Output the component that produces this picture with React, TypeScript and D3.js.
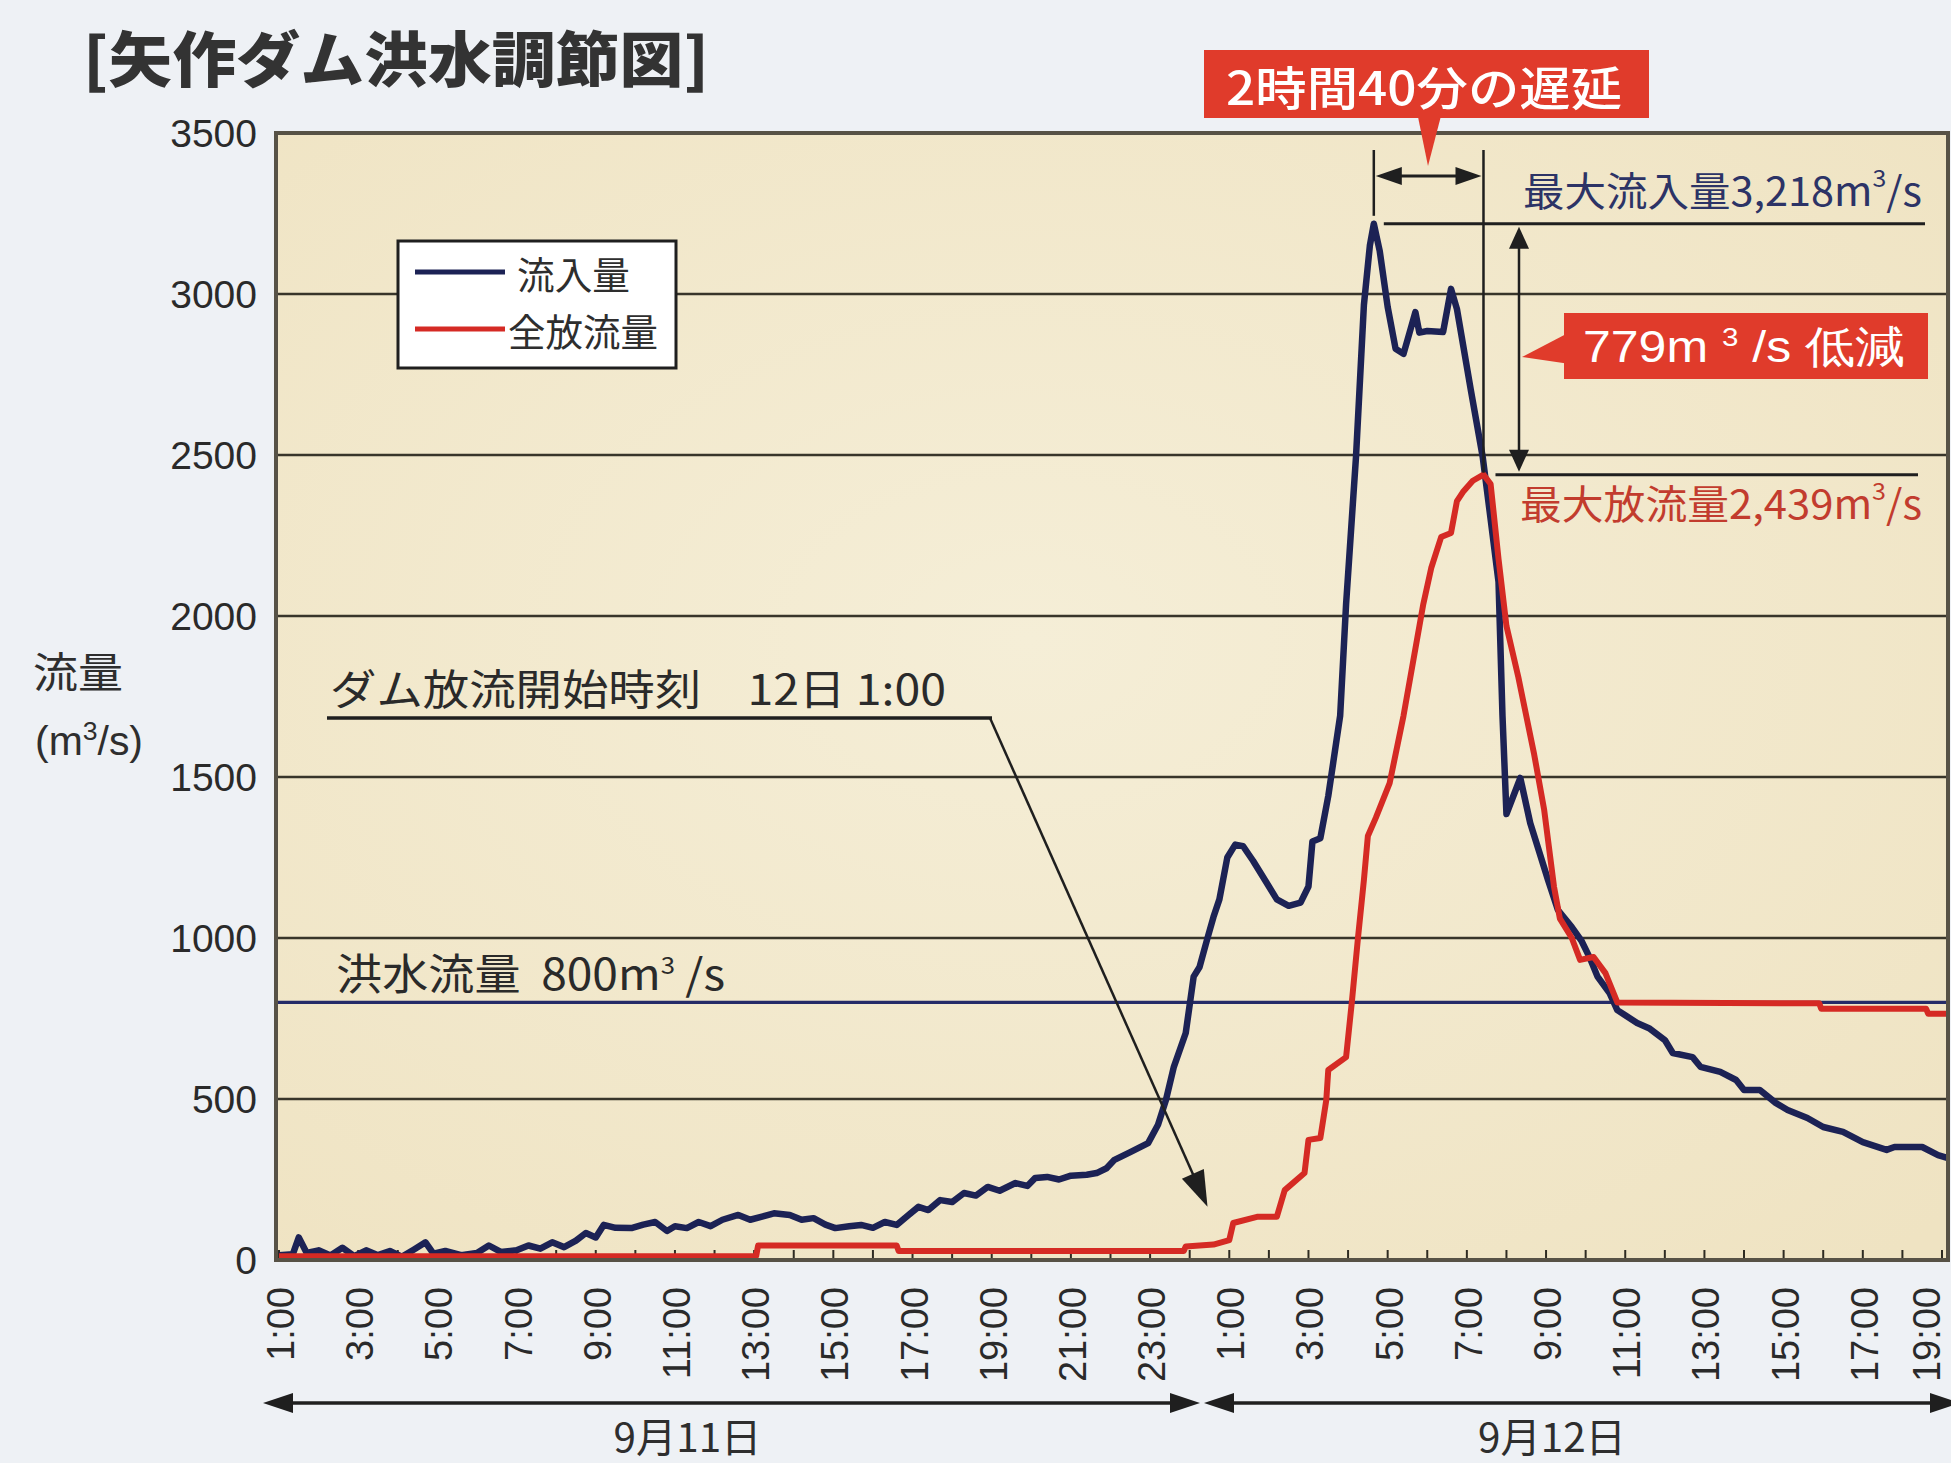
import { useEffect, useRef } from "react";
import * as d3 from "d3";

const WIDTH = 1951;
const HEIGHT = 1463;

// hours counted from 9/11 1:00
const inflowHours = [
  0, 0.35, 0.5, 0.7, 1.0, 1.3, 1.6, 1.9, 2.2, 2.5, 2.8, 3.1, 3.4, 3.7, 3.9, 4.2, 4.6, 5.0, 5.3, 5.6,
  6.0, 6.3, 6.6, 6.9, 7.2, 7.5, 7.75, 8.0, 8.2, 8.5, 8.9, 9.2, 9.5, 9.8, 10.0, 10.3, 10.6, 10.9, 11.2,
  11.6, 11.9, 12.2, 12.5, 12.9, 13.2, 13.5, 13.8, 14.05, 14.4, 14.7, 15.0, 15.3, 15.6, 15.9, 16.15,
  16.4, 16.7, 17.0, 17.3, 17.6, 17.9, 18.2, 18.6, 18.9, 19.1, 19.4, 19.7, 20.0, 20.4, 20.65, 20.9,
  21.1, 21.5, 21.95, 22.2, 22.4, 22.6, 22.9, 23.1, 23.25, 23.45, 23.6, 23.75, 23.95, 24.15, 24.35,
  24.6, 24.9, 25.2, 25.5, 25.8, 26.0, 26.1, 26.3, 26.5, 26.8, 26.95, 27.2, 27.4, 27.55, 27.65, 27.8,
  28.0, 28.2, 28.4, 28.6, 28.7, 28.8, 29.0, 29.4, 29.6, 29.75, 30.1, 30.4, 30.6, 30.8, 30.9, 31.0,
  31.35, 31.6, 32.05, 32.3, 32.65, 32.9, 33.1, 33.3, 33.6, 33.8, 34.0, 34.3, 34.6, 35.0, 35.2, 35.7,
  35.9, 36.4, 36.8, 37.0, 37.4, 37.8, 38.1, 38.6, 39.0, 39.5, 40.0, 40.6, 40.8, 41.5, 41.9, 42.3,
];
const inflowValues = [
  15, 18, 70, 22, 30, 14, 38, 12, 30, 15, 28, 10, 32, 55, 20, 28, 15, 22, 45, 25,
  30, 45, 35, 55, 40, 60, 84, 70, 109, 100, 99, 110, 118, 90, 105, 99, 118, 105, 125,
  140, 125, 135, 145, 140, 125, 130, 110, 99, 105, 109, 100, 118, 109, 140, 165,
  155, 186, 180, 208, 200, 227, 215, 239, 230, 255, 258, 250, 262, 265, 270, 285,
  311, 335, 363, 420, 497, 600, 705, 880, 910, 1000, 1065, 1120, 1250, 1290, 1285,
  1240, 1180, 1120, 1100, 1110, 1160, 1300, 1310, 1441, 1690, 2037, 2494, 2966, 3150, 3218, 3133,
  2960, 2830, 2814, 2900, 2944, 2880, 2885, 2882, 3016, 2953, 2702, 2494, 2301, 2106, 1690, 1385,
  1497, 1357, 1180, 1087, 1034, 990, 940, 880, 830, 776, 760, 736, 720, 683, 643, 630,
  600, 584, 559, 528, 528, 488, 466, 441, 413, 398, 366, 342, 351, 351, 326, 311,
];

const outflowHours = [
  0, 12.05, 12.1, 15.6, 15.65, 22.85, 22.9, 23.6, 24.0, 24.1, 24.7, 25.2, 25.4, 25.9, 26.0, 26.3,
  26.45, 26.5, 26.95, 27.1, 27.25, 27.4, 27.5, 27.7, 28.05, 28.4, 28.7, 28.9, 29.1, 29.35, 29.6,
  29.75, 29.9, 30.15, 30.42, 30.6, 30.8, 31.0, 31.3, 31.7, 31.95, 32.2, 32.35, 32.65, 32.86, 33.2,
  33.5, 33.8, 38.9, 38.95, 41.6, 41.65, 42.3,
];
const outflowValues = [
  12, 12, 45, 45, 28, 28, 42, 48, 62, 115, 134, 134, 217, 270, 373, 379,
  497, 590, 630, 807, 1000, 1180, 1317, 1373, 1481, 1690, 1898, 2037, 2149, 2245, 2258,
  2357, 2385, 2420, 2439, 2410, 2177, 1969, 1810, 1570, 1400, 1160, 1060, 1000, 932, 941,
  891, 800, 797, 780, 780, 765, 765,
];

const yTickValues = [0, 500, 1000, 1500, 2000, 2500, 3000, 3500];
const hourTicks = d3.range(0, 43);
const hourLabels = [
  "1:00", "3:00", "5:00", "7:00", "9:00", "11:00", "13:00", "15:00", "17:00", "19:00", "21:00", "23:00",
  "1:00", "3:00", "5:00", "7:00", "9:00", "11:00", "13:00", "15:00", "17:00", "19:00",
];
const dayLabels = ["9月11日", "9月12日"];
const seriesNames = ["流入量", "全放流量"];
const floodFlow = 800;
const releaseStartHour = 23.45;

const NAVY = "#1c2255";
const RED = "#d52a24";
const BOX_RED = "#e03b2b";
const JP = "'Noto Sans CJK JP', 'Noto Sans', sans-serif";
const LATIN = "'Liberation Sans', Arial, sans-serif";

type Part = { t: string; sup?: boolean };

export default function App() {
  const svgRef = useRef<SVGSVGElement>(null);

  useEffect(() => {
    if (!svgRef.current) return;
    const svg = d3.select(svgRef.current);
    svg.selectAll("*").remove();

    const plot = { left: 276, right: 1948, top: 133, bottom: 1260 };

    const x = d3.scaleLinear().domain([0, 42]).range([279, 1942]);
    const y = d3.scaleLinear().domain([0, 3500]).range([plot.bottom, plot.top]);

    const inflow = inflowHours.map((h, i) => ({ h, v: inflowValues[i] }));
    const outflow = outflowHours.map((h, i) => ({ h, v: outflowValues[i] }));

    // helpers
    const head = (
      g: d3.Selection<SVGGElement, unknown, null, undefined>,
      tx: number,
      ty: number,
      angle: number,
      len: number,
      hw: number,
      fill = "#1f1f1f"
    ) => {
      const c = Math.cos(angle);
      const s = Math.sin(angle);
      const bx = tx - c * len;
      const by = ty - s * len;
      g.append("polygon")
        .attr(
          "points",
          `${tx},${ty} ${bx - s * hw},${by + c * hw} ${bx + s * hw},${by - c * hw}`
        )
        .attr("fill", fill);
    };

    const richText = (
      sel: d3.Selection<SVGTextElement, unknown, null, undefined>,
      parts: Part[],
      supSize: number,
      shift: number
    ) => {
      let up = false;
      parts.forEach((p) => {
        const ts = sel.append("tspan").text(p.t);
        if (p.sup) {
          ts.attr("font-size", supSize).attr("dy", -shift);
          up = true;
        } else if (up) {
          ts.attr("dy", shift);
          up = false;
        }
      });
    };

    // page background
    svg.append("rect").attr("width", WIDTH).attr("height", HEIGHT).attr("fill", "#eef1f5");

    const defs = svg.append("defs");
    const grad = defs
      .append("radialGradient")
      .attr("id", "paper")
      .attr("cx", "45%")
      .attr("cy", "45%")
      .attr("r", "75%");
    grad.append("stop").attr("offset", "0%").attr("stop-color", "#f5eed7");
    grad.append("stop").attr("offset", "100%").attr("stop-color", "#efe3c2");
    defs
      .append("clipPath")
      .attr("id", "plotClip")
      .append("rect")
      .attr("x", plot.left)
      .attr("y", plot.top)
      .attr("width", plot.right - plot.left)
      .attr("height", plot.bottom - plot.top);

    // plot background
    svg
      .append("rect")
      .attr("x", plot.left)
      .attr("y", plot.top)
      .attr("width", plot.right - plot.left)
      .attr("height", plot.bottom - plot.top)
      .attr("fill", "url(#paper)");

    // grid lines
    svg
      .append("g")
      .selectAll("line")
      .data(yTickValues.filter((v) => v > 0 && v < 3500))
      .enter()
      .append("line")
      .attr("x1", plot.left)
      .attr("x2", plot.right)
      .attr("y1", (d) => y(d))
      .attr("y2", (d) => y(d))
      .attr("stroke", "#38352a")
      .attr("stroke-width", 2.6);

    // flood flow line
    svg
      .append("line")
      .attr("x1", plot.left)
      .attr("x2", plot.right)
      .attr("y1", y(floodFlow))
      .attr("y2", y(floodFlow))
      .attr("stroke", "#252b68")
      .attr("stroke-width", 3.2);

    // hour ticks (inside)
    svg
      .append("g")
      .selectAll("line")
      .data(hourTicks)
      .enter()
      .append("line")
      .attr("x1", (d) => x(d))
      .attr("x2", (d) => x(d))
      .attr("y1", plot.bottom)
      .attr("y2", plot.bottom - 10)
      .attr("stroke", "#2e2b22")
      .attr("stroke-width", 2);

    // series
    const line = d3
      .line<{ h: number; v: number }>()
      .x((d) => x(d.h))
      .y((d) => y(d.v));

    const series = svg.append("g").attr("clip-path", "url(#plotClip)");
    series
      .append("path")
      .datum(inflow)
      .attr("d", line)
      .attr("fill", "none")
      .attr("stroke", NAVY)
      .attr("stroke-width", 6.5)
      .attr("stroke-linejoin", "round");
    series
      .append("path")
      .datum(outflow)
      .attr("d", line)
      .attr("fill", "none")
      .attr("stroke", RED)
      .attr("stroke-width", 6)
      .attr("stroke-linejoin", "round");

    // frame
    svg
      .append("rect")
      .attr("x", plot.left)
      .attr("y", plot.top)
      .attr("width", plot.right - plot.left)
      .attr("height", plot.bottom - plot.top)
      .attr("fill", "none")
      .attr("stroke", "#575246")
      .attr("stroke-width", 4);

    // y axis labels
    svg
      .append("g")
      .selectAll("text")
      .data(yTickValues)
      .enter()
      .append("text")
      .attr("x", 257)
      .attr("y", (d) => y(d))
      .attr("dy", "0.36em")
      .attr("text-anchor", "end")
      .attr("font-family", LATIN)
      .attr("font-size", 39)
      .attr("fill", "#2a2a2a")
      .text((d) => String(d));

    // y axis title
    svg
      .append("text")
      .attr("x", 33)
      .attr("y", 669)
      .attr("dominant-baseline", "central")
      .attr("font-family", JP)
      .attr("font-size", 42)
      .attr("fill", "#2e2e2e")
      .attr("textLength", 90)
      .attr("lengthAdjust", "spacingAndGlyphs")
      .text("流量");
    const unit = svg
      .append("text")
      .attr("x", 35)
      .attr("y", 755)
      .attr("font-family", LATIN)
      .attr("font-size", 40)
      .attr("fill", "#2e2e2e")
      .attr("textLength", 108)
      .attr("lengthAdjust", "spacingAndGlyphs");
    richText(unit, [{ t: "(m" }, { t: "3", sup: true }, { t: "/s)" }], 26, 15);

    // x axis labels, every 2 hours (last one nudged to stay on the page)
    svg
      .append("g")
      .selectAll("text")
      .data(hourLabels)
      .enter()
      .append("text")
      .attr("transform", (_, i) => {
        const lx = Math.min(x(i * 2) + 15, WIDTH - 11);
        return `translate(${lx},1287) rotate(-90)`;
      })
      .attr("text-anchor", "end")
      .attr("font-family", LATIN)
      .attr("font-size", 38)
      .attr("fill", "#2a2a2a")
      .text((d) => d);

    // day arrows
    const days = svg.append("g");
    const dayRanges = [
      [263, 1200],
      [1204, 1960],
    ];
    dayRanges.forEach(([a, b], i) => {
      days
        .append("line")
        .attr("x1", a + 20)
        .attr("x2", b - 20)
        .attr("y1", 1403)
        .attr("y2", 1403)
        .attr("stroke", "#1f1f1f")
        .attr("stroke-width", 3.5);
      head(days, a, 1403, Math.PI, 30, 10);
      head(days, b, 1403, 0, 30, 10);
      days
        .append("text")
        .attr("x", (a + b) / 2 + (i === 0 ? -44 : -30))
        .attr("y", 1435)
        .attr("dominant-baseline", "central")
        .attr("text-anchor", "middle")
        .attr("font-family", JP)
        .attr("font-size", 40)
        .attr("fill", "#2e2e2e")
        .attr("textLength", 148)
        .attr("lengthAdjust", "spacingAndGlyphs")
        .text(dayLabels[i]);
    });

    // legend
    const lg = svg.append("g");
    lg.append("rect")
      .attr("x", 398)
      .attr("y", 241)
      .attr("width", 278)
      .attr("height", 127)
      .attr("fill", "#ffffff")
      .attr("stroke", "#1f1f1f")
      .attr("stroke-width", 3);
    [NAVY, RED].forEach((c, i) => {
      const ly = 272 + i * 57;
      lg.append("line")
        .attr("x1", 415)
        .attr("x2", 505)
        .attr("y1", ly)
        .attr("y2", ly)
        .attr("stroke", c)
        .attr("stroke-width", 5);
      lg.append("text")
        .attr("x", i === 0 ? 517 : 508)
        .attr("y", ly)
        .attr("dominant-baseline", "central")
        .attr("font-family", JP)
        .attr("font-size", 38)
        .attr("fill", "#2e2e2e")
        .attr("textLength", i === 0 ? 113 : 150)
        .attr("lengthAdjust", "spacingAndGlyphs")
        .text(seriesNames[i]);
    });

    // flood flow label
    const fl = svg
      .append("text")
      .attr("x", 336)
      .attr("y", 990)
      .attr("font-family", JP)
      .attr("font-size", 43)
      .attr("fill", "#2a2a2a")
      .attr("textLength", 389)
      .attr("lengthAdjust", "spacingAndGlyphs")
      .style("white-space", "pre");
    richText(fl, [{ t: "洪水流量  800m" }, { t: "3", sup: true }, { t: " /s" }], 24, 16);

    // release start annotation
    const ann = svg.append("g");
    ann
      .append("text")
      .attr("x", 330)
      .attr("y", 686)
      .attr("dominant-baseline", "central")
      .attr("font-family", JP)
      .attr("font-size", 42)
      .attr("fill", "#2a2a2a")
      .attr("textLength", 616)
      .attr("lengthAdjust", "spacingAndGlyphs")
      .style("white-space", "pre")
      .text("ダム放流開始時刻　12日 1:00");
    ann
      .append("line")
      .attr("x1", 327)
      .attr("x2", 992)
      .attr("y1", 718)
      .attr("y2", 718)
      .attr("stroke", "#1f1f1f")
      .attr("stroke-width", 3.5);
    const tipX = x(releaseStartHour);
    const tipY = y(165);
    const ang = Math.atan2(tipY - 718, tipX - 990);
    ann
      .append("line")
      .attr("x1", 990)
      .attr("y1", 718)
      .attr("x2", tipX - Math.cos(ang) * 30)
      .attr("y2", tipY - Math.sin(ang) * 30)
      .attr("stroke", "#1f1f1f")
      .attr("stroke-width", 2.5);
    head(ann, tipX, tipY, ang, 36, 12);

    // peak annotations
    const inPeak = inflow[d3.maxIndex(inflow, (d) => d.v)];
    const outPeak = outflow[d3.maxIndex(outflow, (d) => d.v)];
    const px1 = x(inPeak.h);
    const px2 = x(outPeak.h);
    const py1 = y(inPeak.v);
    const py2 = y(outPeak.v);
    const pk = svg.append("g");
    pk.append("line")
      .attr("x1", px1)
      .attr("x2", px1)
      .attr("y1", 150)
      .attr("y2", py1 - 8)
      .attr("stroke", "#1f1f1f")
      .attr("stroke-width", 2.5);
    pk.append("line")
      .attr("x1", px2)
      .attr("x2", px2)
      .attr("y1", 150)
      .attr("y2", py2 - 2)
      .attr("stroke", "#1f1f1f")
      .attr("stroke-width", 2.5);
    pk.append("line")
      .attr("x1", px1 + 20)
      .attr("x2", px2 - 20)
      .attr("y1", 176)
      .attr("y2", 176)
      .attr("stroke", "#1f1f1f")
      .attr("stroke-width", 3);
    head(pk, px1 + 2, 176, Math.PI, 26, 9);
    head(pk, px2 - 2, 176, 0, 26, 9);

    pk.append("line")
      .attr("x1", px1 + 10)
      .attr("x2", 1925)
      .attr("y1", py1)
      .attr("y2", py1)
      .attr("stroke", "#1f1f1f")
      .attr("stroke-width", 3);
    pk.append("line")
      .attr("x1", px2 + 12)
      .attr("x2", 1918)
      .attr("y1", py2)
      .attr("y2", py2)
      .attr("stroke", "#1f1f1f")
      .attr("stroke-width", 3);
    const vx = 1519;
    pk.append("line")
      .attr("x1", vx)
      .attr("x2", vx)
      .attr("y1", py1 + 20)
      .attr("y2", py2 - 20)
      .attr("stroke", "#1f1f1f")
      .attr("stroke-width", 2.5);
    head(pk, vx, py1 + 3, -Math.PI / 2, 22, 10);
    head(pk, vx, py2 - 3, Math.PI / 2, 22, 10);

    const t1 = pk
      .append("text")
      .attr("x", 1523)
      .attr("y", 189)
      .attr("dominant-baseline", "central")
      .attr("font-family", JP)
      .attr("font-size", 40)
      .attr("fill", "#2c3366")
      .attr("textLength", 399)
      .attr("lengthAdjust", "spacingAndGlyphs");
    richText(t1, [{ t: "最大流入量3,218m" }, { t: "3", sup: true }, { t: "/s" }], 24, 13);
    const t2 = pk
      .append("text")
      .attr("x", 1520)
      .attr("y", 502)
      .attr("dominant-baseline", "central")
      .attr("font-family", JP)
      .attr("font-size", 40)
      .attr("fill", "#c23c2e")
      .attr("textLength", 402)
      .attr("lengthAdjust", "spacingAndGlyphs");
    richText(t2, [{ t: "最大放流量2,439m" }, { t: "3", sup: true }, { t: "/s" }], 24, 13);

    // red callout boxes
    const cb = svg.append("g");
    cb.append("polygon")
      .attr("points", "1417,112 1442,112 1428,166")
      .attr("fill", BOX_RED);
    cb.append("rect")
      .attr("x", 1204)
      .attr("y", 50)
      .attr("width", 445)
      .attr("height", 68)
      .attr("fill", BOX_RED);
    cb.append("text")
      .attr("x", 1226)
      .attr("y", 85)
      .attr("dominant-baseline", "central")
      .attr("font-family", JP)
      .attr("font-weight", 500)
      .attr("font-size", 46)
      .attr("fill", "#ffffff")
      .attr("textLength", 396)
      .attr("lengthAdjust", "spacingAndGlyphs")
      .text("2時間40分の遅延");

    cb.append("polygon")
      .attr("points", "1570,332 1570,364 1522,357")
      .attr("fill", BOX_RED);
    cb.append("rect")
      .attr("x", 1564)
      .attr("y", 313)
      .attr("width", 364)
      .attr("height", 66)
      .attr("fill", BOX_RED);
    const t3 = cb
      .append("text")
      .attr("x", 1583)
      .attr("y", 362)
      .attr("font-family", LATIN)
      .attr("font-size", 44)
      .attr("fill", "#ffffff")
      .attr("textLength", 322)
      .attr("lengthAdjust", "spacingAndGlyphs")
      .style("white-space", "pre");
    richText(t3, [{ t: "779m " }, { t: "3", sup: true }, { t: " /s 低減" }], 26, 16);

    // title
    svg
      .append("text")
      .attr("x", 83)
      .attr("y", 55)
      .attr("dominant-baseline", "central")
      .attr("font-family", JP)
      .attr("font-weight", 900)
      .attr("font-size", 60)
      .attr("fill", "#333333")
      .attr("textLength", 626)
      .attr("lengthAdjust", "spacingAndGlyphs")
      .text("[矢作ダム洪水調節図]");

    return () => {
      svg.selectAll("*").remove();
    };
  }, []);

  return (
    <div style={{ position: "absolute", left: 0, top: 0, width: WIDTH, height: HEIGHT }}>
      <svg ref={svgRef} width={WIDTH} height={HEIGHT} style={{ display: "block" }} />
    </div>
  );
}
